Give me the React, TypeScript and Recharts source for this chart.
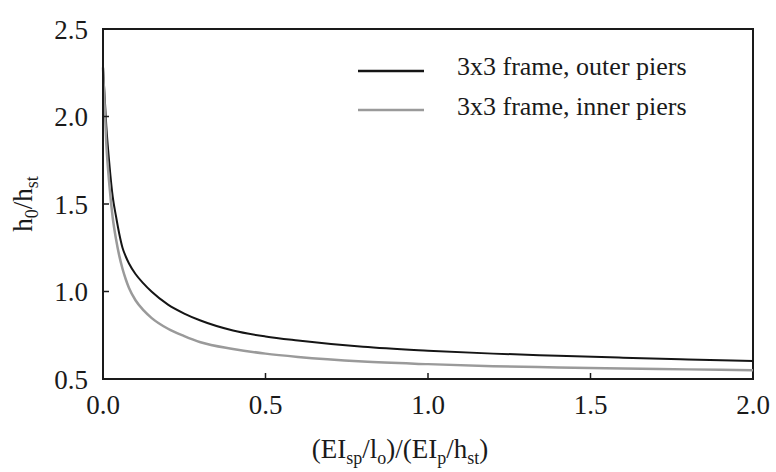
import { Label, Line, LineChart, ReferenceArea, XAxis, YAxis } from "recharts";

const stiffnessRatio = [0, 0.01, 0.02, 0.03, 0.04, 0.05, 0.06, 0.07, 0.08, 0.1, 0.125, 0.15, 0.2, 0.25, 0.3, 0.4, 0.5, 0.6, 0.8, 1.0, 1.2, 1.4, 1.6, 1.8, 2.0];
const outerPiers = [2.28, 1.95, 1.72, 1.54, 1.43, 1.33, 1.25, 1.2, 1.16, 1.1, 1.045, 0.998, 0.925, 0.874, 0.834, 0.777, 0.743, 0.72, 0.684, 0.662, 0.645, 0.633, 0.622, 0.612, 0.603];
const innerPiers = [2.28, 1.85, 1.6, 1.42, 1.3, 1.205, 1.13, 1.07, 1.02, 0.95, 0.892, 0.848, 0.787, 0.745, 0.71, 0.672, 0.645, 0.626, 0.6, 0.585, 0.573, 0.566, 0.56, 0.555, 0.55];
const seriesNames = ["3x3 frame, outer piers", "3x3 frame, inner piers"];
const seriesColors = ["#151515", "#9a9a9a"];
const xTicks = [0, 0.5, 1, 1.5, 2];
const yTicks = [0.5, 1, 1.5, 2, 2.5];

const chartData = stiffnessRatio.map((x, i) => ({ x, outer: outerPiers[i], inner: innerPiers[i] }));

const font = "Liberation Serif, Times New Roman, serif";
const ink = "#1a1a1a";

function YTitle({ viewBox }: any) {
  const cx = viewBox.x + 32;
  const cy = viewBox.y + viewBox.height / 2;
  return (
    <text
      x={cx}
      y={cy}
      transform={`rotate(-90 ${cx} ${cy})`}
      textAnchor="middle"
      style={{ fontFamily: font }}
      fontSize={27}
      fill={ink}
    >
      <tspan>h</tspan>
      <tspan fontSize={18} dy={6}>0</tspan>
      <tspan dy={-6}>/h</tspan>
      <tspan fontSize={18} dy={6}>st</tspan>
    </text>
  );
}

function XTitle({ viewBox }: any) {
  return (
    <text
      x={viewBox.x + viewBox.width / 2 - 28}
      y={viewBox.y + 79}
      textAnchor="middle"
      style={{ fontFamily: font }}
      fontSize={27}
      fill={ink}
    >
      <tspan>(EI</tspan>
      <tspan fontSize={18} dy={6}>sp</tspan>
      <tspan dy={-6}>/l</tspan>
      <tspan fontSize={18} dy={6}>o</tspan>
      <tspan dy={-6}>)/(EI</tspan>
      <tspan fontSize={18} dy={6}>p</tspan>
      <tspan dy={-6}>/h</tspan>
      <tspan fontSize={18} dy={6}>st</tspan>
      <tspan dy={-6}>)</tspan>
    </text>
  );
}

// legend drawn as an overlay so it doesn't shrink the plot area
function LegendOverlay() {
  return (
    <svg width={380} height={80} style={{ position: "absolute", left: 355, top: 50 }}>
      {seriesNames.map((name, i) => (
        <g key={name}>
          <line x1={3} x2={69} y1={21 + i * 39} y2={21 + i * 39} stroke={seriesColors[i]} strokeWidth={2.5} />
          <text x={102} y={25 + i * 40} style={{ fontFamily: font }} fontSize={26} fill={ink}>
            {name}
          </text>
        </g>
      ))}
    </svg>
  );
}

export default function App() {
  return (
    <div style={{ position: "absolute", left: 0, top: 0, width: 776, height: 472, background: "#fff", fontFamily: font }}>
      <LineChart width={776} height={472} data={chartData} margin={{ top: 29, right: 23, left: 0, bottom: 0 }}>
        <ReferenceArea x1={0} x2={2} y1={0.5} y2={2.5} fill="none" stroke={ink} strokeWidth={2} />
        <XAxis
          dataKey="x"
          type="number"
          domain={[0, 2]}
          ticks={xTicks}
          tickFormatter={(v: number) => v.toFixed(1)}
          height={93}
          tickSize={-6}
          tickMargin={22}
          axisLine={{ stroke: ink, strokeWidth: 2 }}
          tickLine={{ stroke: ink, strokeWidth: 1.5 }}
          tick={{ fill: ink, fontSize: 27, style: { fontFamily: font } }}
        >
          <Label content={XTitle} />
        </XAxis>
        <YAxis
          type="number"
          domain={[0.5, 2.5]}
          ticks={yTicks}
          allowDataOverflow
          tickFormatter={(v: number) => v.toFixed(1)}
          width={103}
          tickSize={-6}
          tickMargin={21}
          axisLine={{ stroke: ink, strokeWidth: 2 }}
          tickLine={{ stroke: ink, strokeWidth: 1.5 }}
          tick={{ fill: ink, fontSize: 27, style: { fontFamily: font } }}
        >
          <Label content={YTitle} />
        </YAxis>
        <Line
          name={seriesNames[0]}
          dataKey="outer"
          type="monotone"
          stroke={seriesColors[0]}
          strokeWidth={2}
          dot={false}
          isAnimationActive={false}
        />
        <Line
          name={seriesNames[1]}
          dataKey="inner"
          type="monotone"
          stroke={seriesColors[1]}
          strokeWidth={2.5}
          dot={false}
          isAnimationActive={false}
        />
      </LineChart>
      <LegendOverlay />
    </div>
  );
}
